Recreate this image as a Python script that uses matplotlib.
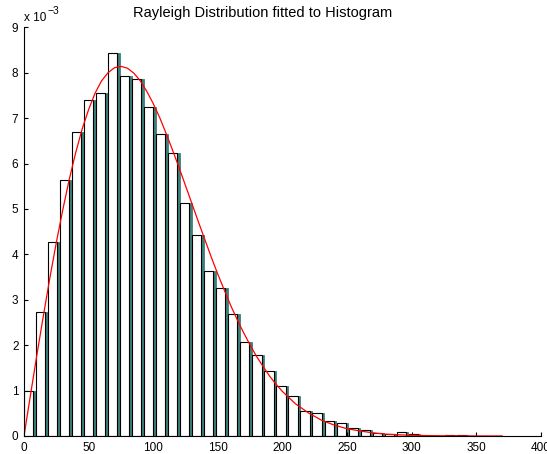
import numpy as np
import matplotlib
matplotlib.use('Agg')
import matplotlib.pyplot as plt

plt.rcParams['font.family'] = ['Liberation Sans', 'DejaVu Sans']

# Histograma (densidad, en unidades de 1e-3)
bin_width = 9.3
heights = [1.00, 2.72, 4.28, 5.64, 6.70, 7.41, 7.56, 8.43, 7.92, 7.87,
           7.25, 6.65, 6.24, 5.13, 4.43, 3.63, 3.25, 2.68, 2.06, 1.78,
           1.43, 1.11, 0.87, 0.54, 0.51, 0.32, 0.28, 0.18, 0.14, 0.07,
           0.05, 0.08, 0.04, 0.01, 0.01, 0.02, 0.02, 0.00, 0.01, 0.01]

# Curva de Rayleigh ajustada (unidades de 1e-3)
curve_x = [0, 5, 10, 15, 20, 25, 30, 35, 40, 45, 50, 55, 60, 65, 70, 75,
           80, 85, 90, 95, 100, 105, 110, 115, 120, 125, 130, 135, 140, 145,
           150, 155, 160, 165, 170, 175, 180, 185, 190, 195, 200, 210, 220,
           230, 240, 250, 260, 270, 280, 290, 300, 310, 320, 330, 340, 350,
           360, 370]
curve_y = [0.00, 0.90, 1.79, 2.65, 3.48, 4.26, 4.98, 5.65, 6.24, 6.76,
           7.19, 7.55, 7.82, 8.00, 8.11, 8.14, 8.10, 7.99, 7.82, 7.59,
           7.32, 7.01, 6.66, 6.29, 5.91, 5.51, 5.11, 4.71, 4.32, 3.93,
           3.56, 3.21, 2.87, 2.56, 2.27, 2.00, 1.75, 1.53, 1.32, 1.14,
           0.98, 0.71, 0.51, 0.35, 0.24, 0.16, 0.11, 0.07, 0.04, 0.027,
           0.016, 0.010, 0.006, 0.003, 0.002, 0.001, 0.0006, 0.0003]

xticks = [0, 50, 100, 150, 200, 250, 300, 350, 400]
yticks = [0, 1, 2, 3, 4, 5, 6, 7, 8, 9]

teal = '#3f7f7b'
scale = 1e-3

h = np.array(heights) * scale
lefts = np.arange(len(heights)) * bin_width

fig = plt.figure(figsize=(5.47, 4.54), dpi=100)
ax = fig.add_axes([24 / 547, 18 / 454, 517 / 547, 408.7 / 454])

# barras: franja verde azulada detrás, barra blanca con borde negro delante
ax.bar(lefts + 0.12 * bin_width, h, width=0.85 * bin_width, align='edge',
       color=teal, edgecolor=teal, linewidth=0.6, zorder=1)
ax.bar(lefts, h, width=0.76 * bin_width, align='edge', color='white',
       edgecolor='black', linewidth=0.8, zorder=2)

ax.plot(curve_x, np.array(curve_y) * scale, color='red', linewidth=0.9, zorder=3)

ax.set_xlim(0, 400)
ax.set_ylim(0, 9 * scale)
ax.set_xticks(xticks)
ax.set_xticklabels([str(t) for t in xticks])
ax.set_yticks([t * scale for t in yticks])
ax.set_yticklabels([str(t) for t in yticks])

for side in ['top', 'right']:
    ax.spines[side].set_visible(False)
for side in ['left', 'bottom']:
    ax.spines[side].set_linewidth(0.8)
    ax.spines[side].set_zorder(4)

ax.tick_params(direction='in', length=3, width=0.8, labelsize=8.5, pad=4)

fig.text(24 / 547, 1 - 21 / 454, 'x 10', fontsize=8.5, ha='left', va='baseline')
fig.text(47 / 547, 1 - 14 / 454, '\u22123', fontsize=7.5, ha='left', va='baseline')

fig.text(263 / 547, 1 - 17 / 454, 'Rayleigh Distribution fitted to Histogram',
         fontsize=10.5, ha='center', va='baseline')

fig.savefig('out.png', dpi=100)
